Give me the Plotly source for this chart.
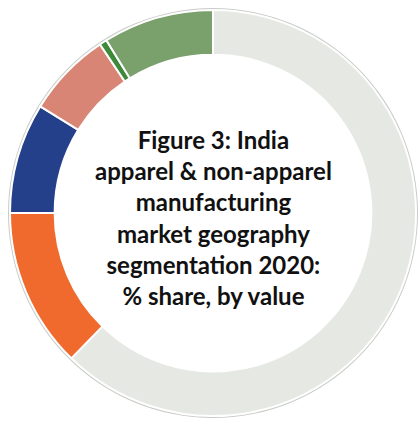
import plotly.graph_objects as go

segments = ["Segment 1", "Segment 2", "Segment 3", "Segment 4", "Segment 5", "Segment 6"]
shares = [62.3, 12.7, 8.8, 6.8, 0.6, 8.8]
colors = ["#E6E9E3", "#F06A2E", "#25408A", "#D98575", "#3F8A3A", "#7AA06C"]
title_lines = ["Figure 3: India", "apparel & non-apparel", "manufacturing",
               "market geography", "segmentation 2020:", "% share, by value"]

W, H = 418, 421
cx, cy, r = 213, 213, 203


def dom(rad):
    return dict(x=[max(0, (cx - rad) / W), min(1, (cx + rad) / W)],
                y=[max(0, (H - cy - rad) / H), min(1, (H - cy + rad) / H)])


fig = go.Figure()
# faint outer outline ring
fig.add_trace(go.Pie(
    values=[1], labels=["outline"], hole=0.985, sort=False,
    marker=dict(colors=["#CACCC8"], line=dict(width=0)),
    textinfo="none", textposition="inside", hoverinfo="skip", showlegend=False,
    domain=dom(r + 2),
))
fig.add_trace(go.Pie(
    values=shares, labels=segments, hole=0.78, sort=False,
    direction="clockwise", rotation=0,
    marker=dict(colors=colors, line=dict(color="white", width=2)),
    textinfo="none", textposition="inside", showlegend=False,
    domain=dom(r),
))
fig.add_annotation(
    text="<br>".join(title_lines), x=cx / W, y=(H - 218) / H,
    xref="paper", yref="paper", showarrow=False, xanchor="center", yanchor="middle",
    font=dict(family="Lato", size=24, color="#111111", weight="bold"),
    align="center",
)
fig.update_layout(width=W, height=H, margin=dict(l=0, r=0, t=0, b=0),
                  paper_bgcolor="white", plot_bgcolor="white")
fig.write_html("out.html", config={"displayModeBar": False},
               post_script="document.body.style.margin='0';")
